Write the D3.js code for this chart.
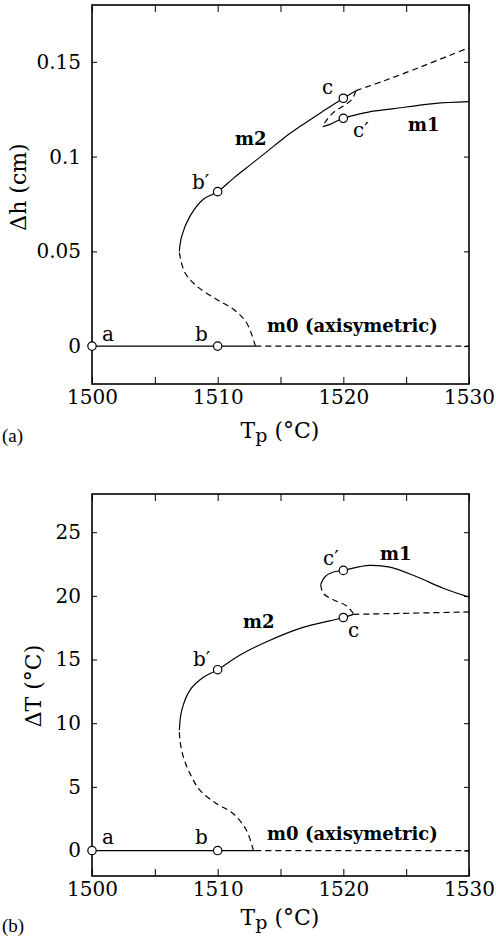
<!DOCTYPE html>
<html>
<head>
<meta charset="utf-8">
<script src="https://cdn.jsdelivr.net/npm/d3@7"></script>
<style>
  body { margin: 0; background: #fff; }
  svg { display: block; }
</style>
</head>
<body>
<div id="chart"></div>
<script>
// x values shared by both panels
const tpDomain = [1500, 1530];
const tpTicks = [1500, 1510, 1520, 1530];
const tpMinorTicks = [1500, 1505, 1510, 1515, 1520, 1525, 1530];

// panel (a): delta h (cm)
const dhDomain = [-0.02, 0.18];
const dhTicks = [0, 0.05, 0.1, 0.15];
const m0SolidA = [[1500, 0], [1513, 0]];
const m0DashA = [[1513, 0], [1530, 0]];
const m2DashA = [[1513.0, 0], [1512.3, 0.0123], [1511.25, 0.0194], [1509.9, 0.0247], [1508.33, 0.0317], [1507.4, 0.0387], [1507.0, 0.0475], [1506.95, 0.050]];
const m2SolidA = [[1506.95, 0.050], [1507.14, 0.058], [1507.8, 0.0686], [1508.86, 0.0775], [1510, 0.0815], [1511.25, 0.0885], [1512.57, 0.0955], [1513.9, 0.1025], [1515.3, 0.110], [1516.8, 0.117], [1518.4, 0.124], [1520, 0.1308], [1521.0, 0.1348]];
const m2DashEndA = [[1521.0, 0.1348], [1523.2, 0.1399], [1525.84, 0.1465], [1528.5, 0.1535], [1530, 0.1575]];
const m1DashA = [[1521.0, 0.1346], [1520.66, 0.130], [1520.0, 0.1267], [1519.2, 0.1232], [1518.54, 0.118], [1518.36, 0.1158]];
const m1SolidA = [[1518.36, 0.1158], [1518.94, 0.117], [1519.6, 0.1192], [1520, 0.1202], [1520.5, 0.1212], [1522, 0.1235], [1524, 0.1253], [1527.2, 0.128], [1530, 0.129]];
const pointsA = [[1500, 0], [1510, 0], [1510, 0.0815], [1520, 0.1308], [1520, 0.1202]];
const labelsA = [
  ["a", 1500.8, 0.0025, false], ["b", 1508.2, 0.0025, false], ["b\u2032", 1507.96, 0.0827, false],
  ["c", 1518.3, 0.1329, false], ["c\u2032", 1520.77, 0.1102, false],
  ["m2", 1511.38, 0.106, true], ["m1", 1525.15, 0.1134, true], ["m0 (axisymetric)", 1513.93, 0.0072, true]
];

// panel (b): delta T (degC)
const dtDomain = [-2, 28];
const dtTicks = [0, 5, 10, 15, 20, 25];
const m0SolidB = [[1500, 0], [1513, 0]];
const m0DashB = [[1513, 0], [1530, 0]];
const m2DashB = [[1512.84, 0], [1512.3, 1.57], [1511.25, 2.89], [1509.92, 3.68], [1508.6, 4.72], [1507.8, 6.04], [1507.27, 7.35], [1507.0, 8.66], [1506.95, 9.45]];
const m2SolidB = [[1506.95, 9.45], [1507.14, 11.0], [1507.8, 12.6], [1508.86, 13.6], [1510, 14.2], [1511.78, 15.35], [1513.9, 16.4], [1516.55, 17.45], [1520, 18.3], [1520.8, 18.55]];
const m2DashEndB = [[1520.8, 18.55], [1524.5, 18.62], [1530, 18.74]];
const m1DashB = [[1520.8, 18.6], [1520.27, 19.2], [1519.2, 19.7], [1518.4, 20.2], [1518.2, 20.9]];
const m1SolidB = [[1518.2, 20.9], [1518.54, 21.5], [1519.2, 21.87], [1520, 22.0], [1521.33, 22.3], [1522.1, 22.4], [1523.7, 22.26], [1525.84, 21.5], [1527.95, 20.6], [1530, 19.9]];
const pointsB = [[1500, 0], [1510, 0], [1510, 14.2], [1520, 18.3], [1520, 22.0]];
const labelsB = [
  ["a", 1500.8, 0.55, false], ["b", 1508.2, 0.55, false], ["b\u2032", 1508.04, 14.5, false],
  ["c\u2032", 1518.38, 22.44, false], ["c", 1520.37, 16.77, false],
  ["m2", 1512.02, 17.48, true], ["m1", 1522.92, 22.83, true], ["m0 (axisymetric)", 1513.93, 0.79, true]
];

const W = 496, H = 938;
const serif = "'DejaVu Serif', serif";

const svg = d3.select("#chart").append("svg")
  .attr("width", W).attr("height", H)
  .style("background", "#fff");

function drawPanel(cfg) {
  const x = d3.scaleLinear().domain(tpDomain).range([92, 469]);
  const y = d3.scaleLinear().domain(cfg.domain).range([cfg.bottom, cfg.top]);
  const g = svg.append("g");

  const line = d3.line()
    .x(d => x(d[0])).y(d => y(d[1]))
    .curve(d3.curveCatmullRom.alpha(0.5));

  // axes, ticks inward
  const ax = (axis, tr) => {
    const a = g.append("g").attr("transform", tr).call(axis);
    a.select(".domain").remove();
    a.selectAll("line").attr("stroke", "#000").attr("stroke-width", 1);
    a.selectAll("text").attr("font-family", serif).attr("font-size", 20).attr("fill", "#000");
    return a;
  };
  ax(d3.axisBottom(x).tickValues(tpMinorTicks).tickSize(-7).tickPadding(6)
      .tickFormat(d => tpTicks.includes(d) ? d : ""), `translate(0,${cfg.bottom})`);
  ax(d3.axisTop(x).tickValues(tpMinorTicks).tickSize(-7).tickFormat(""), `translate(0,${cfg.top})`);
  ax(d3.axisLeft(y).tickValues(cfg.ticks).tickSize(-5).tickPadding(11).tickFormat(cfg.fmt), `translate(92,0)`);
  ax(d3.axisRight(y).tickValues(cfg.ticks).tickSize(-5).tickFormat(""), `translate(469,0)`);

  g.append("rect")
    .attr("x", 92).attr("y", cfg.top)
    .attr("width", 469 - 92).attr("height", cfg.bottom - cfg.top)
    .attr("fill", "none").attr("stroke", "#000").attr("stroke-width", 1.6);

  // curves
  cfg.solid.forEach(s => g.append("path").attr("d", line(s))
    .attr("fill", "none").attr("stroke", "#000").attr("stroke-width", 1.2));
  cfg.dashed.forEach(s => g.append("path").attr("d", line(s))
    .attr("fill", "none").attr("stroke", "#000").attr("stroke-width", 1.2)
    .attr("stroke-dasharray", "6,4"));

  // marked points
  g.selectAll("circle.pt").data(cfg.points).join("circle")
    .attr("cx", d => x(d[0])).attr("cy", d => y(d[1])).attr("r", 4.2)
    .attr("fill", "#fff").attr("stroke", "#000").attr("stroke-width", 1.2);

  // annotations
  g.selectAll("text.lab").data(cfg.labels).join("text")
    .attr("x", d => x(d[1])).attr("y", d => y(d[2]))
    .attr("font-family", serif)
    .attr("font-size", d => d[3] ? 18 : 20)
    .attr("font-weight", d => d[3] ? "bold" : "normal")
    .text(d => d[0]);

  // axis titles
  const xt = g.append("text")
    .attr("x", 280).attr("y", cfg.xTitleY)
    .attr("text-anchor", "middle")
    .attr("font-family", serif).attr("font-size", 22);
  xt.append("tspan").text("T");
  xt.append("tspan").attr("dy", 4).attr("font-size", 19).text("p");
  xt.append("tspan").attr("dy", -4).text(" (\u00B0C)");

  g.append("text")
    .attr("transform", `translate(${cfg.yTitleX},${cfg.yTitleY}) rotate(-90)`)
    .attr("text-anchor", "middle")
    .attr("font-family", serif).attr("font-size", 22)
    .text(cfg.yTitle);

  g.append("text")
    .attr("x", 2).attr("y", cfg.tagY)
    .attr("font-family", "'Liberation Serif', serif").attr("font-size", 19)
    .text(cfg.tag);
}

drawPanel({
  top: 5, bottom: 384, domain: dhDomain, ticks: dhTicks,
  fmt: d => d === 0 ? "0" : String(d),
  solid: [m0SolidA, m2SolidA, m1SolidA],
  dashed: [m0DashA, m2DashA, m2DashEndA, m1DashA],
  points: pointsA, labels: labelsA,
  xTitleY: 438, yTitleX: 26, yTitleY: 187, yTitle: "\u0394h (cm)",
  tag: "(a)", tagY: 442
});

drawPanel({
  top: 494, bottom: 876, domain: dtDomain, ticks: dtTicks,
  fmt: d => String(d),
  solid: [m0SolidB, m2SolidB, m1SolidB],
  dashed: [m0DashB, m2DashB, m2DashEndB, m1DashB],
  points: pointsB, labels: labelsB,
  xTitleY: 925, yTitleX: 41, yTitleY: 686, yTitle: "\u0394T (\u00B0C)",
  tag: "(b)", tagY: 932
});
</script>
</body>
</html>
